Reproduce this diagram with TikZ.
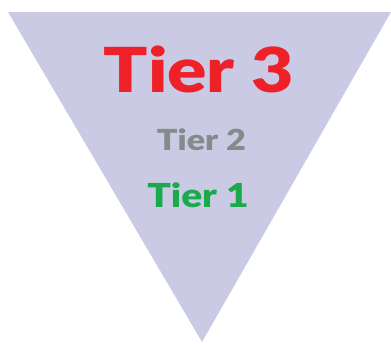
\documentclass[tikz,border=0pt]{standalone}
\usepackage{fontspec}
\newfontfamily\tierfont{Lato Black}[FakeStretch=1.18]
\definecolor{tierfill}{HTML}{CACAE5}
\definecolor{tierred}{HTML}{EE2028}
\definecolor{tiergray}{HTML}{838B8B}
\definecolor{tiergreen}{HTML}{1AAA4B}
\tikzset{tierlabel/.style={anchor=base, inner sep=0pt}}
\begin{document}
\begin{tikzpicture}[x=1pt, y=-1pt]
    \useasboundingbox (0, 0) rectangle (391, 343);

    % Inverted triangle
    \fill[tierfill] (8, 12) -- (391, 12) -- (202, 342) -- cycle;

    % Tier labels
    \node[tierlabel, tierred, font=\tierfont\fontsize{62}{62}\selectfont] (tier3) at (199, 92) {Tier 3};
    \node[tierlabel, tiergray, font=\tierfont\fontsize{29}{29}\selectfont] (tier2) at (201.5, 150) {Tier 2};
    \node[tierlabel, tiergreen, font=\tierfont\fontsize{33}{33}\selectfont] (tier1) at (198, 207) {Tier 1};
\end{tikzpicture}
\end{document}
